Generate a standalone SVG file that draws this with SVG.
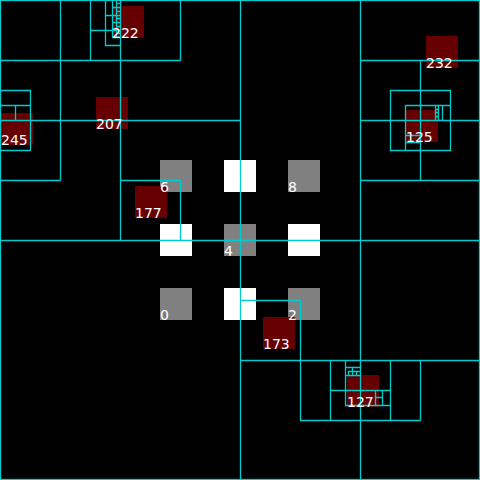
<svg xmlns="http://www.w3.org/2000/svg" width="480" height="480" viewBox="0 0 480 480">
<style>
.g{fill:#808080}
.w{fill:#ffffff}
.p{fill:#660000}
.t{fill:#ffffff;font-family:"DejaVu Sans",sans-serif;font-size:14px}
.q{fill:none;stroke:#00cccc;stroke-width:1.3}
</style>
<rect width="480" height="480" fill="#000"/>
<g id="grid">
<rect class="g" x="160" y="160" width="32" height="32"/>
<rect class="w" x="224" y="160" width="32" height="32"/>
<rect class="g" x="288" y="160" width="32" height="32"/>
<rect class="w" x="160" y="224" width="32" height="32"/>
<rect class="g" x="224" y="224" width="32" height="32"/>
<rect class="w" x="288" y="224" width="32" height="32"/>
<rect class="g" x="160" y="288" width="32" height="32"/>
<rect class="w" x="224" y="288" width="32" height="32"/>
<rect class="g" x="288" y="288" width="32" height="32"/>
</g>
<g id="points">
<rect class="p" x="112" y="6" width="32" height="32"/>
<rect class="p" x="426" y="36" width="32" height="32"/>
<rect class="p" x="96" y="97" width="32" height="32"/>
<rect class="p" x="1" y="113" width="32" height="32"/>
<rect class="p" x="406" y="110" width="32" height="32"/>
<rect class="p" x="135" y="186" width="32" height="32"/>
<rect class="p" x="263" y="317" width="32" height="32"/>
<rect class="p" x="347" y="375" width="32" height="32"/>
</g>
<g id="tree">
<rect class="q" x="0.5" y="0.5" width="479" height="479"/>
<path class="q" d="M240.5 0V480M0 240.5H480
M0 120.5H240M120.5 0V240
M60.5 0V180.5M0 60.5H180.5M180.5 0V60.5M0 180.5H60.5
M90.5 0V60.5M90 30.5H120
M105.5 0V45.5M105 45.5H120.5M105 15.5H120
M112.5 0V37.5M112 37.5H120M112 7.5H120M112 22.5H120
M116.5 0V37.5M116 3.5H120M116 11.5H120M116 18.5H120M116 26.5H120M116 33.5H120
M0 90.5H30.5M30.5 90V150.5M0 150.5H30.5M0 105.5H30M15.5 105V120
M120 180.5H180.5M180.5 180V240
M360.5 0V240M360 120.5H480M360 60.5H480M360 180.5H480M420.5 60V180.5
M390.5 90.5H450.5V150.5H390.5Z
M405 105.5H450M405.5 105V150
M435.5 105V120M442.5 105V120M438.5 105V120M435 109.5H438.5M435 112.5H438.5M435 116.5H438.5
M405 135.5H420M405 142.5H420
M360.5 240V480M240 360.5H480
M240 300.5H300.5M300.5 300V420.5M300 420.5H420.5M420.5 360V420.5
M330.5 360V420M390.5 360V420M330 390.5H390.5
M345.5 360V405.5M345 405.5H390.5
M345 367.5H360M345 375.5H360M352.5 367V375M348 371.5H360M348.5 371V375M356.5 371V375
M375.5 390V405M382.5 390V405M375 397.5H382.5"/>
</g>
<g id="labels">
<text class="t" x="112" y="38">222</text>
<text class="t" x="426" y="68">232</text>
<text class="t" x="96" y="129">207</text>
<text class="t" x="1" y="145">245</text>
<text class="t" x="406" y="142">125</text>
<text class="t" x="135" y="218">177</text>
<text class="t" x="263" y="349">173</text>
<text class="t" x="347" y="407">127</text>
<text class="t" x="160" y="192">6</text>
<text class="t" x="288" y="192">8</text>
<text class="t" x="224" y="256">4</text>
<text class="t" x="160" y="320">0</text>
<text class="t" x="288" y="320">2</text>
</g>
</svg>
